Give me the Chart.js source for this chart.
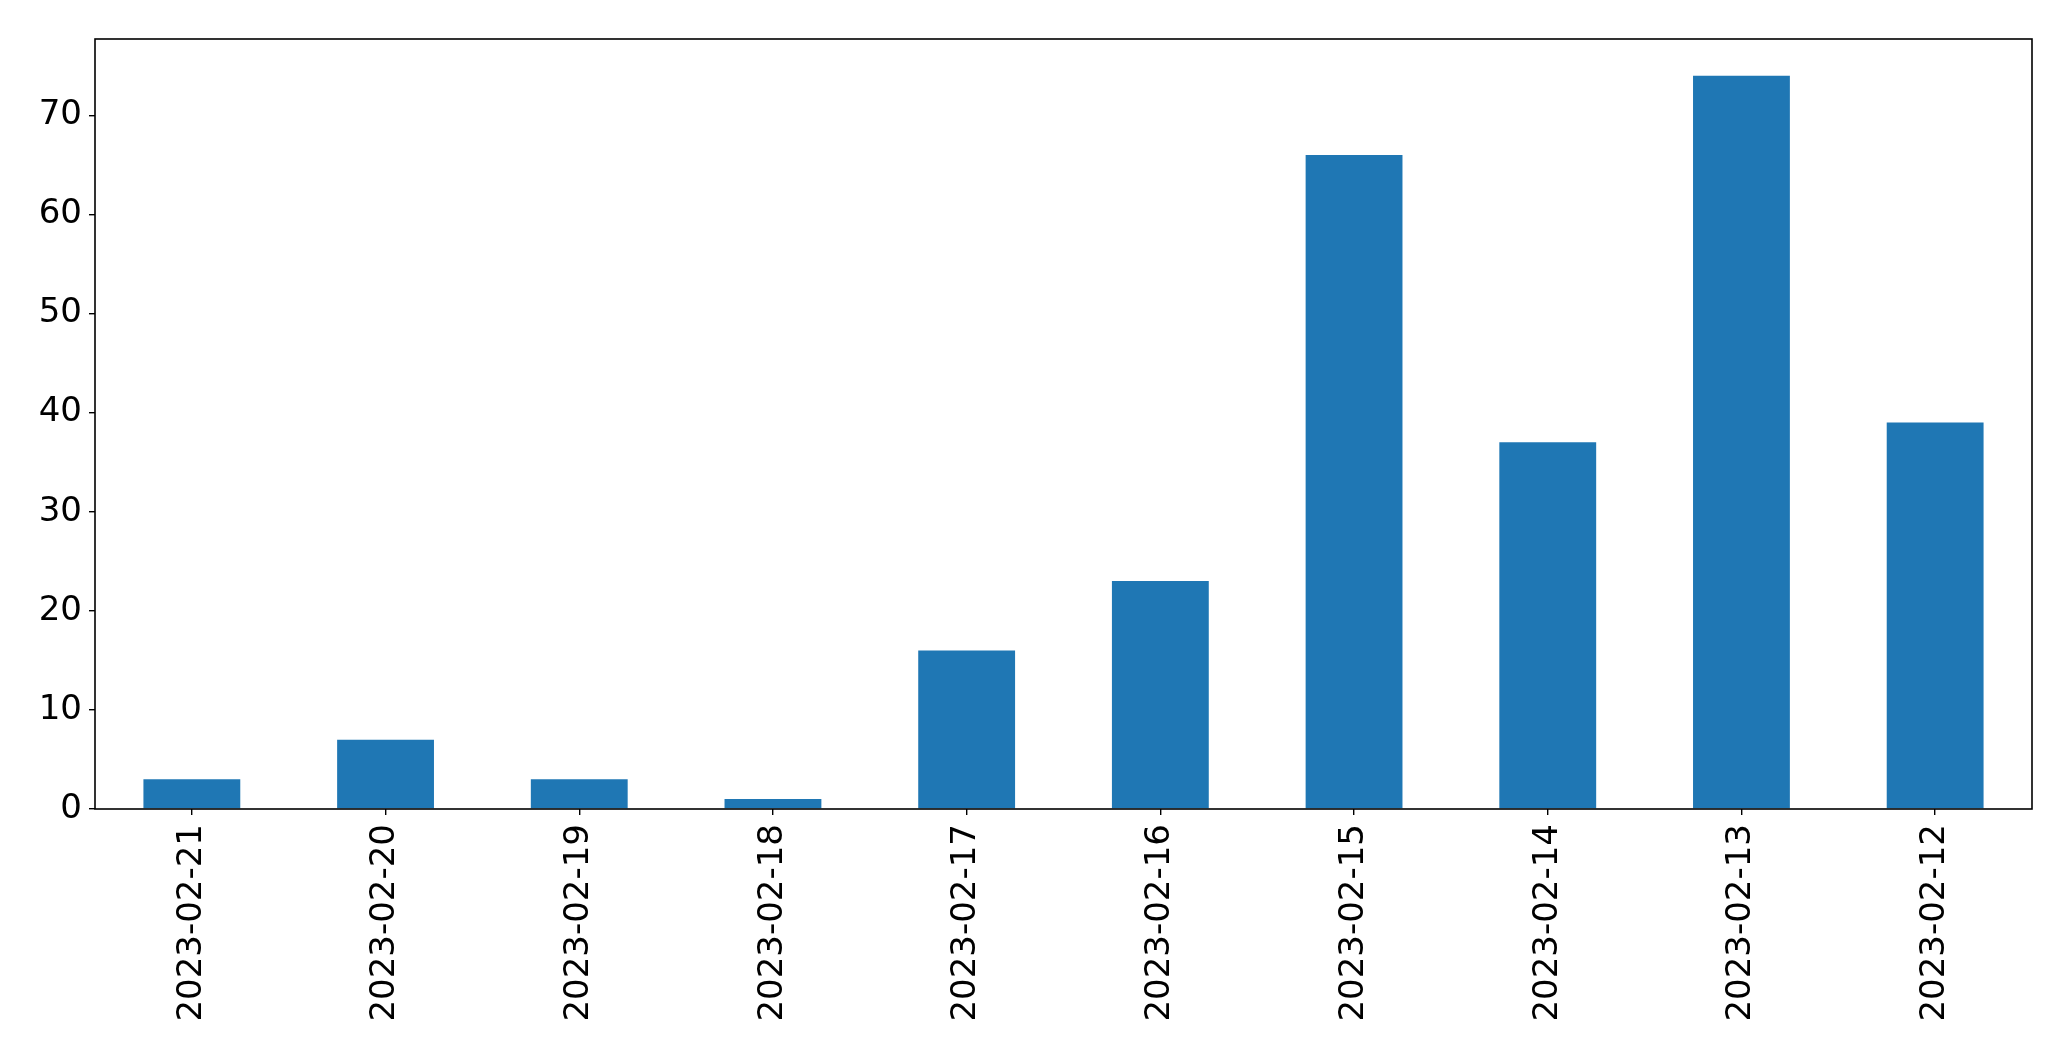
<!DOCTYPE html>
<html>
<head>
<meta charset="utf-8">
<script src="https://cdn.jsdelivr.net/npm/chart.js@4/dist/chart.umd.min.js"></script>
<style>
html,body{margin:0;padding:0;background:#fff;}
#wrap{width:2071px;height:1061px;position:relative;}
</style>
</head>
<body>
<div id="wrap"><canvas id="c" width="2071" height="1061"></canvas></div>
<script>
const categories = ["2023-02-21","2023-02-20","2023-02-19","2023-02-18","2023-02-17","2023-02-16","2023-02-15","2023-02-14","2023-02-13","2023-02-12"];
const counts = [3, 7, 3, 1, 16, 23, 66, 37, 74, 39];
const yTicks = [0, 10, 20, 30, 40, 50, 60, 70];

const frame = {
  id: 'frame',
  afterDatasetsDraw(chart) {
    const a = chart.chartArea, ctx = chart.ctx;
    ctx.save();
    ctx.strokeStyle = '#000';
    ctx.lineWidth = 1.6;
    ctx.strokeRect(a.left, a.top, a.right - a.left, a.bottom - a.top);
    ctx.restore();
  }
};

const yMax = Math.max(...counts) * 1.05;

new Chart(document.getElementById('c'), {
  type: 'bar',
  data: {
    labels: categories,
    datasets: [{
      data: counts,
      backgroundColor: '#1f77b4',
      borderWidth: 0,
      categoryPercentage: 0.5,
      barPercentage: 1.0
    }]
  },
  options: {
    responsive: false,
    animation: false,
    devicePixelRatio: 1,
    layout: { padding: { top: 39, right: 39, left: 0, bottom: 0 } },
    plugins: { legend: { display: false }, tooltip: { enabled: false } },
    scales: {
      x: {
        offset: true,
        grid: { display: true, drawOnChartArea: false, drawTicks: true, tickLength: 6, color: '#000', lineWidth: 1.4, offset: false },
        border: { display: false },
        ticks: {
          minRotation: 90, maxRotation: 90, autoSkip: false,
          color: '#000', padding: 9,
          font: { family: 'DejaVu Sans', size: 34 }
        },
        afterFit(s) { s.height = 1061 - 809; }
      },
      y: {
        min: 0, max: yMax,
        afterBuildTicks(s) { s.ticks = yTicks.map(v => ({ value: v })); },
        grid: { display: true, drawOnChartArea: false, drawTicks: true, tickLength: 6, color: '#000', lineWidth: 1.4 },
        border: { display: false },
        ticks: {
          color: '#000', padding: 7, includeBounds: false,
          font: { family: 'DejaVu Sans', size: 34 }
        },
        afterFit(s) { s.width = 95; }
      }
    }
  },
  plugins: [frame]
});
</script>
</body>
</html>
